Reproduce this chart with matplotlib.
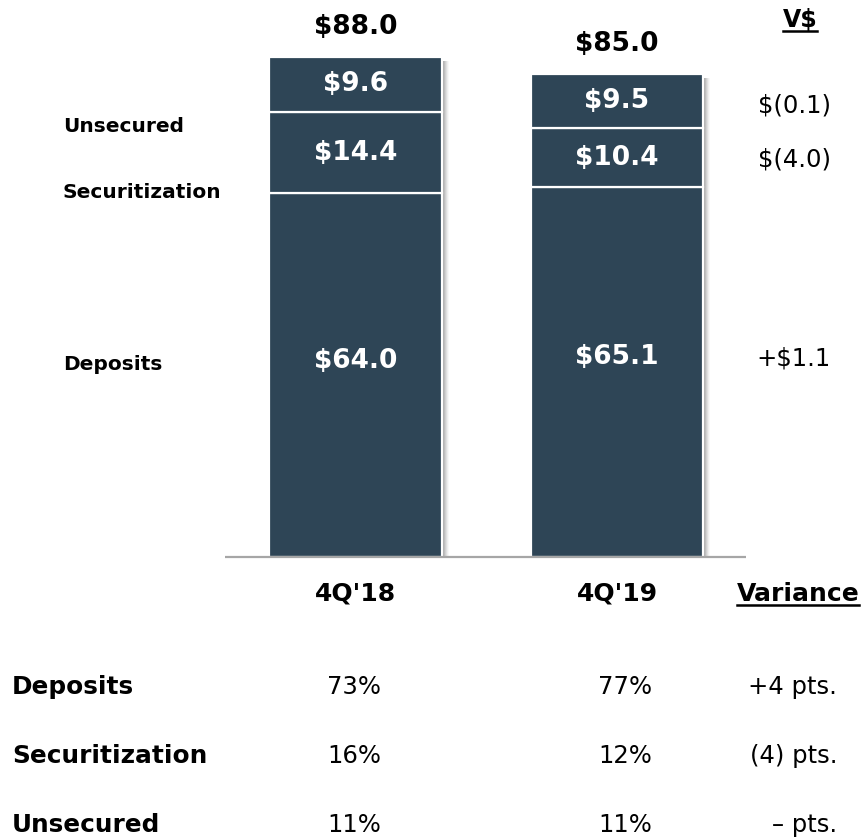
import matplotlib
matplotlib.use("Agg")
import matplotlib.pyplot as plt
from matplotlib.patches import Rectangle
from matplotlib.lines import Line2D

plt.rcParams['font.family'] = ['DejaVu Sans']

# ---- data ----
periods = ["4Q'18", "4Q'19"]
deposits = [64.0, 65.1]
securitization = [14.4, 10.4]
unsecured = [9.6, 9.5]
totals = [88.0, 85.0]
segment_names = ["Unsecured", "Securitization", "Deposits"]
variance_dollars = ["$(0.1)", "$(4.0)", "+$1.1"]
table_rows = ["Deposits", "Securitization", "Unsecured"]
mix_4q18 = ["73%", "16%", "11%"]
mix_4q19 = ["77%", "12%", "11%"]
mix_variance = ["+4 pts.", "(4) pts.", "\u2013 pts."]

BAR = "#2e4556"
REG = 17.5

W, H = 867, 838
fig = plt.figure(figsize=(W / 100, H / 100), dpi=100)
ax = fig.add_axes([0, 0, 1, 1])

# pixel mapping helpers (layout only)
X0, XS = 355.5, 261.5      # pixel of x=0, px per unit
Y0, YS = 557.0, 5.68       # pixel of y=0 (from top), px per unit
def px(p):
    return (p - X0) / XS
def py(p):
    return (Y0 - p) / YS

ax.set_xlim(px(0), px(W))
ax.set_ylim(py(H), py(0))
ax.axis('off')

xs = list(range(len(periods)))
bw = 172.5 / XS

# soft shadows on the right of each bar
for i in xs:
    top = deposits[i] + securitization[i] + unsecured[i]
    for k in range(7):
        off = (1 + k) / XS
        ax.add_patch(Rectangle((xs[i] - bw / 2 + off, -0.2), bw, top - 0.5,
                               facecolor='#000000', alpha=0.11 - k * 0.014,
                               edgecolor='none', zorder=1))

# stacked bars
ax.bar(xs, deposits, bw, color=BAR, edgecolor='white', linewidth=1.6, zorder=3)
ax.bar(xs, securitization, bw, bottom=deposits, color=BAR, edgecolor='white',
       linewidth=1.6, zorder=3)
bottom2 = [d + s for d, s in zip(deposits, securitization)]
ax.bar(xs, unsecured, bw, bottom=bottom2, color=BAR, edgecolor='white',
       linewidth=1.6, zorder=3)

# baseline
ax.plot([px(225), px(746)], [0, 0], color='#a6a6a6', lw=1.6, zorder=4,
        solid_capstyle='butt')

# inner labels
for i in xs:
    ax.text(xs[i], deposits[i] * 0.54, f"${deposits[i]:.1f}", ha='center', va='center',
            color='white', fontsize=19, fontweight='bold', zorder=5)
    ax.text(xs[i], deposits[i] + securitization[i] / 2, f"${securitization[i]:.1f}",
            ha='center', va='center', color='white', fontsize=19, fontweight='bold', zorder=5)
    ax.text(xs[i], bottom2[i] + unsecured[i] / 2, f"${unsecured[i]:.1f}",
            ha='center', va='center', color='white', fontsize=19, fontweight='bold', zorder=5)
    ax.text(xs[i], totals[i] + 5.3, f"${totals[i]:.1f}", ha='center', va='center',
            color='black', fontsize=19, fontweight='bold')

# left segment labels
left_y = [127, 193, 364]
for name, yy in zip(segment_names, left_y):
    ax.text(px(63), py(yy), name, ha='left', va='center', fontsize=14.5,
            fontweight='bold', color='black')

# V$ column
right_y = [106, 160, 358]
for lab, yy in zip(variance_dollars, right_y):
    ax.text(px(831), py(yy), lab, ha='right', va='center', fontsize=REG, color='black')

underlined = []
t = ax.text(px(800), py(20), "V$", ha='center', va='center', fontsize=17,
            fontweight='bold', color='black')
underlined.append(t)

# period labels
for i in xs:
    ax.text(xs[i], py(594), periods[i], ha='center', va='center', fontsize=18,
            fontweight='bold', color='black')
t = ax.text(px(798), py(594), "Variance", ha='center', va='center', fontsize=18,
            fontweight='bold', color='black')
underlined.append(t)

# table
row_y = [687, 756, 825]
for r, yy in enumerate(row_y):
    ax.text(px(12), py(yy), table_rows[r], ha='left', va='center', fontsize=17.8,
            fontweight='bold', color='black')
    ax.text(px(354), py(yy), mix_4q18[r], ha='center', va='center', fontsize=REG,
            color='black')
    ax.text(px(625), py(yy), mix_4q19[r], ha='center', va='center', fontsize=REG,
            color='black')
    ax.text(px(837), py(yy), mix_variance[r], ha='right', va='center', fontsize=REG,
            color='black')

# underlines
fig.canvas.draw()
r = fig.canvas.get_renderer()
for t in underlined:
    bb = t.get_window_extent(renderer=r)
    yline = bb.y0 + 1
    fig.add_artist(Line2D([bb.x0 / W, bb.x1 / W], [yline / H, yline / H],
                          color='black', lw=1.8, transform=fig.transFigure))

fig.savefig("out.png", dpi=100, facecolor='white')
